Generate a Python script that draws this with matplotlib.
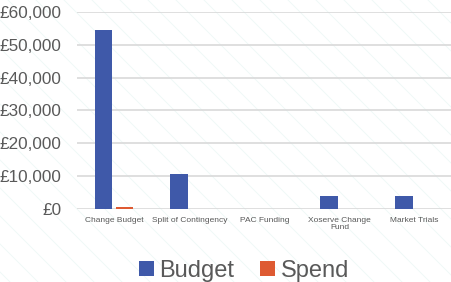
import numpy as np
import matplotlib
matplotlib.use("Agg")
import matplotlib.pyplot as plt
from matplotlib.ticker import FuncFormatter

plt.rcParams['font.family'] = ['Liberation Sans', 'DejaVu Sans']

# Chart data
categories = ["Change Budget", "Split of Contingency", "PAC Funding",
              "Xoserve Change\nFund", "Market Trials"]
budget = [54500, 10500, 0, 3900, 3900]
spend = [400, 0, 0, 0, 0]

blue = "#3F59A9"
orange = "#DE5A32"
text_grey = "#595959"

fig = plt.figure(figsize=(4.52, 2.82), dpi=100)
fig.patch.set_facecolor("white")

# faint decorative diagonal lines in the background
bg = fig.add_axes([0, 0, 1, 1], zorder=0)
bg.set_xlim(0, 452)
bg.set_ylim(282, 0)
bg.axis("off")
for x0 in range(-300, 460, 28):
    bg.plot([x0, x0 + 282], [0, 282], color="#EDF8F6", lw=0.6)

ax = fig.add_axes([0.17, 0.2606, 0.83, 0.6968], zorder=1)
ax.patch.set_alpha(0)

x = np.arange(len(categories))
w = 0.23
ax.bar(x - 0.14, budget, width=w, color=blue, label="Budget", zorder=3)
ax.bar(x + 0.14, spend, width=w, color=orange, label="Spend", zorder=3)

ax.set_xlim(-0.5, len(categories) - 0.5)
ax.set_ylim(0, 60000)
ax.set_yticks(np.arange(0, 60001, 10000))
ax.yaxis.set_major_formatter(FuncFormatter(lambda v, p: f"£{v:,.0f}"))
ax.grid(axis="y", color="#D9D9D9", lw=1.2, zorder=0)
for s in ax.spines.values():
    s.set_visible(False)
ax.tick_params(axis="y", length=0, labelsize=12.3, labelcolor=text_grey, pad=11)
ax.tick_params(axis="x", length=0, labelsize=6, labelcolor=text_grey, pad=6)
ax.set_xticks(x)
ax.set_xticklabels(categories, linespacing=1.0)

fig.legend(loc="center", bbox_to_anchor=(0.54, 0.04), ncol=2, frameon=False,
           fontsize=17, handlelength=0.6, handleheight=0.6, handletextpad=0.25,
           columnspacing=1.1, labelcolor=text_grey)

fig.savefig("out.png", dpi=100, facecolor="white")
